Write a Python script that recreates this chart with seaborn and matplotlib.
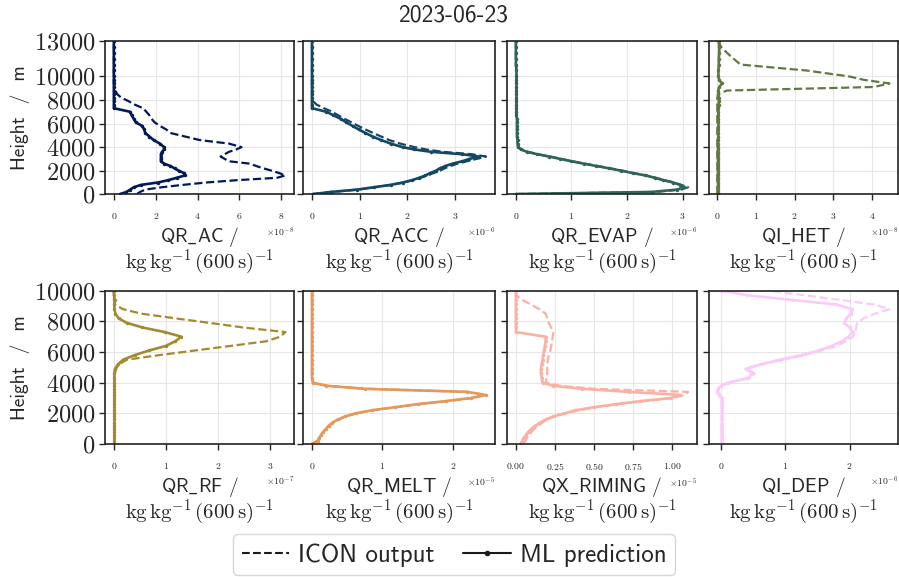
import numpy as np
import matplotlib
matplotlib.use('Agg')
import matplotlib.pyplot as plt
import seaborn as sns
from matplotlib.lines import Line2D
from matplotlib.ticker import MultipleLocator

# model levels (m)
heights = [20, 200, 400, 600, 800, 1000, 1200, 1400, 1600, 1800,
           2000, 2200, 2400, 2600, 2800, 3000, 3200, 3400, 3600, 3800,
           4000, 4300, 4600, 4900, 5200, 5500, 5800, 6100, 6400, 6700,
           7000, 7300, 7600, 7900, 8200, 8500, 8800, 9100, 9400, 9700,
           10000, 10500, 11000, 11500, 12000, 12500, 13000]

# QR_AC  (x 1e-8)
qr_ac_icon = [1.1, 1.25, 1.5, 2.3, 3.3, 4.4, 5.9, 7.8, 8.2, 7.9,
              7.55, 7.15, 6.8, 6.5, 5.5, 5.3, 5.1, 5.3, 5.5, 5.85,
              6.1, 5.5, 4.1, 3.4, 2.7, 2.5, 2.2, 1.95, 1.8, 1.7,
              1.55, 1.4, 1.0, 0.7, 0.35, 0.15, 0.08, 0.03, 0, 0,
              0, 0, 0, 0, 0, 0, 0]
qr_ac_ml = [0.3, 0.6, 0.78, 0.95, 1.3, 2.1, 2.6, 3.0, 3.4, 3.35,
            3.1, 2.9, 2.7, 2.4, 2.25, 2.25, 2.25, 2.25, 2.3, 2.4,
            2.4, 2.2, 1.9, 1.7, 1.5, 1.45, 1.35, 1.05, 0.95, 0.85,
            0.77, 0, 0, 0, 0, 0, 0, 0, 0, 0,
            0, 0, 0, 0, 0, 0, 0]

# QR_ACC (x 1e-6)
qr_acc_icon = [0.02, 0.42, 0.97, 1.32, 1.67, 1.93, 2.12, 2.28, 2.42, 2.55,
               2.68, 2.78, 2.9, 3.05, 3.25, 3.45, 3.65, 3.35, 2.75, 2.4,
               2.15, 1.85, 1.62, 1.45, 1.28, 1.12, 0.97, 0.83, 0.68, 0.55,
               0.42, 0.25, 0.1, 0.02, 0, 0, 0, 0, 0, 0,
               0, 0, 0, 0, 0, 0, 0]
qr_acc_ml = [0.02, 0.4, 0.95, 1.3, 1.65, 1.9, 2.1, 2.25, 2.38, 2.48,
             2.6, 2.68, 2.8, 2.95, 3.15, 3.3, 3.5, 3.15, 2.5, 2.15,
             1.9, 1.65, 1.45, 1.27, 1.12, 0.98, 0.85, 0.72, 0.6, 0.45,
             0.3, 0, 0, 0, 0, 0, 0, 0, 0, 0,
             0, 0, 0, 0, 0, 0, 0]

# QR_EVAP (x 1e-6)
qr_evap_icon = [0.0, 2.5, 2.98, 3.1, 2.98, 2.85, 2.67, 2.52, 2.35, 2.12,
                1.92, 1.7, 1.47, 1.24, 1.02, 0.82, 0.62, 0.4, 0.22, 0.1,
                0.04, 0.03, 0.03, 0.02, 0.02, 0.02, 0.02, 0.02, 0.02, 0.01,
                0.01, 0.01, 0.01, 0.01, 0.01, 0.01, 0.01, 0.01, 0.01, 0.01,
                0.01, 0.01, 0.0, 0.0, 0.0, 0.0, 0.0]
qr_evap_ml = [0.0, 2.45, 2.9, 3.03, 2.95, 2.83, 2.65, 2.5, 2.33, 2.1,
              1.9, 1.68, 1.45, 1.22, 1.0, 0.8, 0.6, 0.38, 0.2, 0.09,
              0.04, 0.03, 0.03, 0.02, 0.02, 0.02, 0.02, 0.02, 0.02, 0.01,
              0.01, 0.01, 0.01, 0.01, 0.01, 0.01, 0.01, 0.01, 0.01, 0.01,
              0.01, 0.01, 0.0, 0.0, 0.0, 0.0, 0.0]

# QI_HET (x 1e-8)
qi_het_icon = [0, 0, 0, 0, 0, 0, 0, 0, 0, 0,
               0, 0, 0, 0, 0, 0, 0, 0, 0, 0,
               0, 0, 0, 0, 0, 0, 0, 0, 0, 0,
               0, 0, 0, 0, 0, 0.02, 0.25, 4.05, 4.45, 3.8,
               3.4, 2.3, 0.6, 0.42, 0.25, 0.1, 0.02]
qi_het_ml = [0.02, 0.02, 0.02, 0.02, 0.02, 0.02, 0.02, 0.02, 0.02, 0.02,
             0.02, 0.02, 0.02, 0.02, 0.02, 0.02, 0.02, 0.02, 0.02, 0.02,
             0.02, 0.02, 0.03, 0.03, 0.03, 0.03, 0.03, 0.03, 0.03, 0.03,
             0.03, 0.03, 0.04, 0.04, 0.04, 0.03, 0.02, 0.05, 0.12, 0.05,
             0.03, 0.03, 0.04, 0.04, 0.05, 0.05, 0.04]

# QR_RF (x 1e-7)
qr_rf_icon = [0.01, 0.01, 0.01, 0.01, 0.01, 0.01, 0.01, 0.01, 0.01, 0.01,
              0.01, 0.01, 0.01, 0.01, 0.01, 0.01, 0.01, 0.01, 0.01, 0.01,
              0.01, 0.01, 0.02, 0.04, 0.1, 0.25, 0.88, 1.56, 2.25, 2.93,
              3.2, 3.3, 2.49, 1.84, 1.18, 0.53, 0.17, 0.02, 0.0, 0.0,
              0.0, 0.0, 0.0, 0.0, 0.0, 0.0, 0.0]
qr_rf_ml = [0.01, 0.01, 0.01, 0.01, 0.01, 0.01, 0.01, 0.01, 0.01, 0.01,
            0.01, 0.01, 0.01, 0.01, 0.01, 0.01, 0.01, 0.01, 0.01, 0.01,
            0.01, 0.01, 0.01, 0.02, 0.08, 0.18, 0.4, 0.68, 1.0, 1.18,
            1.3, 0.98, 0.55, 0.25, 0.09, 0.03, 0.01, 0.01, 0.02, 0.0,
            0.0, 0.0, 0.0, 0.0, 0.0, 0.0, 0.0]

# QR_MELT (x 1e-5)
qr_melt_icon = [0.0, 0.08, 0.1, 0.13, 0.17, 0.2, 0.25, 0.3, 0.38, 0.48,
                0.63, 0.86, 1.2, 1.52, 1.92, 2.28, 2.45, 2.22, 0.77, 0.22,
                0.02, 0, 0, 0, 0, 0, 0, 0, 0, 0,
                0, 0, 0, 0, 0, 0, 0, 0, 0, 0,
                0, 0, 0, 0, 0, 0, 0]
qr_melt_ml = [0.0, 0.08, 0.1, 0.13, 0.16, 0.2, 0.24, 0.29, 0.37, 0.47,
              0.62, 0.85, 1.18, 1.5, 1.9, 2.26, 2.47, 2.2, 0.75, 0.2,
              0.01, 0, 0, 0, 0, 0, 0, 0, 0, 0,
              0, 0, 0, 0, 0, 0, 0, 0, 0, 0,
              0, 0, 0, 0, 0, 0, 0]

# QX_RIMING (x 1e-5)
qx_riming_icon = [0.05, 0.06, 0.07, 0.085, 0.1, 0.12, 0.14, 0.17, 0.2, 0.25,
                  0.32, 0.4, 0.51, 0.65, 0.82, 1.0, 1.08, 1.1, 0.5, 0.28,
                  0.19, 0.195, 0.2, 0.2, 0.2, 0.205, 0.21, 0.22, 0.225, 0.23,
                  0.235, 0.24, 0.225, 0.21, 0.2, 0.19, 0.15, 0.095, 0.04, 0.0,
                  0, 0, 0, 0, 0, 0, 0]
qx_riming_ml = [0.03, 0.04, 0.05, 0.065, 0.08, 0.1, 0.125, 0.155, 0.19, 0.24,
                0.31, 0.38, 0.5, 0.64, 0.8, 0.99, 1.05, 0.72, 0.42, 0.24,
                0.17, 0.165, 0.16, 0.16, 0.165, 0.17, 0.175, 0.18, 0.185, 0.19,
                0.19, 0, 0, 0, 0, 0, 0, 0, 0, 0,
                0, 0, 0, 0, 0, 0, 0]

# QI_DEP (x 1e-6)
qi_dep_icon = [0.01, 0.01, 0.01, 0.01, 0.01, 0.01, 0.01, 0.01, 0.01, 0.01,
               0.01, 0.01, 0.01, 0.01, 0.01, 0.01, -0.03, -0.05, -0.04, 0.01,
               0.12, 0.45, 0.52, 0.4, 0.65, 0.96, 1.3, 1.56, 1.8, 1.95,
               2.05, 2.1, 2.1, 2.12, 2.22, 2.4, 2.62, 2.38, 1.85, 1.3,
               0.75, 0.3, 0.1, 0.05, 0.0, 0.0, 0.0]
qi_dep_ml = [0.01, 0.01, 0.01, 0.01, 0.01, 0.01, 0.01, 0.01, 0.01, 0.01,
             0.01, 0.01, 0.01, 0.01, 0.01, 0.01, -0.03, -0.06, -0.05, 0.0,
             0.1, 0.42, 0.49, 0.38, 0.62, 0.92, 1.25, 1.52, 1.72, 1.88,
             1.98, 2.05, 2.0, 1.92, 1.95, 2.02, 2.04, 1.79, 1.1, 0.41,
             0.0, 0.0, 0.0, 0.0, 0.0, 0.0, 0.0]

names = ['QR\\_AC', 'QR\\_ACC', 'QR\\_EVAP', 'QI\\_HET',
         'QR\\_RF', 'QR\\_MELT', 'QX\\_RIMING', 'QI\\_DEP']
scales = [1e-8, 1e-6, 1e-6, 1e-8, 1e-7, 1e-5, 1e-5, 1e-6]
tick_steps = [2, 1, 1, 1, 1, 1, 0.25, 1]
icon_data = [qr_ac_icon, qr_acc_icon, qr_evap_icon, qi_het_icon,
             qr_rf_icon, qr_melt_icon, qx_riming_icon, qi_dep_icon]
ml_data = [qr_ac_ml, qr_acc_ml, qr_evap_ml, qi_het_ml,
           qr_rf_ml, qr_melt_ml, qx_riming_ml, qi_dep_ml]

# batlow-like colours
colors = ['#011959', '#134862', '#2e6459', '#617941', '#a48a2e', '#e2995b', '#fbb0a3', '#facbf8']

sns.set_theme(style='ticks')
plt.rcParams['font.family'] = ['cmr10', 'DejaVu Serif']
plt.rcParams['mathtext.fontset'] = 'cm'
plt.rcParams['axes.formatter.use_mathtext'] = True
plt.rcParams['axes.unicode_minus'] = False
sans = ['cmss10', 'DejaVu Sans']

W, H = 899, 577
fig = plt.figure(figsize=(W / 100, H / 100), dpi=100)

col_l = [105.3, 303.3, 507.3, 708.7]
col_r = [294.0, 494.7, 696.7, 898.0]
row_t = [41.0, 290.7]
row_b = [194.3, 444.0]
unit = '$\\mathrm{kg\\,kg^{-1}\\,(600\\,s)^{-1}}$'

for k in range(8):
    row, col = divmod(k, 4)
    ax_h = row_b[row] - row_t[row]
    ax = fig.add_axes([col_l[col] / W, 1 - row_b[row] / H,
                       (col_r[col] - col_l[col]) / W, ax_h / H])
    x_icon = np.array(icon_data[k]) * scales[k]
    x_ml = np.array(ml_data[k]) * scales[k]
    sns.lineplot(x=x_icon, y=heights, orient='y', estimator=None, ax=ax,
                 color=colors[k], lw=1.6, linestyle='--')
    sns.lineplot(x=x_ml, y=heights, orient='y', estimator=None, ax=ax,
                 color=colors[k], lw=1.9, linestyle='-', marker='o',
                 markersize=2.5, markeredgewidth=0)
    if row == 0:
        ax.set_ylim(0, 13000)
        ax.set_yticks([0, 2000, 4000, 6000, 8000, 10000, 13000])
    else:
        ax.set_ylim(0, 10000)
        ax.set_yticks([0, 2000, 4000, 6000, 8000, 10000])
    ax.xaxis.set_major_locator(MultipleLocator(tick_steps[k] * scales[k]))
    ax.grid(True, color='#e6e6e6', lw=0.8)
    ax.set_axisbelow(True)
    for s in ax.spines.values():
        s.set_visible(True)
        s.set_color('#222222')
        s.set_linewidth(1.2)
    ax.tick_params(axis='y', labelsize=17.5, length=4, width=1, direction='out', pad=3)
    ax.tick_params(axis='x', labelsize=7, length=4, width=1, direction='out', pad=8)
    ax.xaxis.get_offset_text().set_fontsize(7)
    # two-line x label: quantity name (sans) and unit (math)
    ax.set_xlabel(unit, fontsize=15, va='center')
    ax.xaxis.set_label_coords(0.5, -67.5 / ax_h)
    ax.text(0.5, -43.0 / ax_h, '$\\mathsf{' + names[k] + '}$ /', transform=ax.transAxes,
            ha='center', va='center', fontsize=14, family=sans)
    if col == 0:
        ax.set_ylabel('Height  /  m', fontsize=14, family=sans, labelpad=3)
    else:
        ax.set_ylabel('')
        ax.set_yticklabels([])

fig.text(0.504, 1 - 15 / H, '2023-06-23', ha='center', va='center', fontsize=17, family=sans)

handles = [Line2D([], [], color='k', ls='--', lw=1.5),
           Line2D([], [], color='k', ls='-', lw=1.5, marker='o', markersize=3)]
fig.legend(handles, ['ICON output', 'ML prediction'], loc='lower center',
           bbox_to_anchor=(0.505, 0.003), ncol=2, frameon=True, fancybox=True,
           prop={'family': sans, 'size': 18}, handlelength=1.9, handletextpad=0.35,
           columnspacing=1.15, edgecolor='#cccccc', borderpad=0.35, borderaxespad=0)

fig.savefig('out.png', dpi=100)
